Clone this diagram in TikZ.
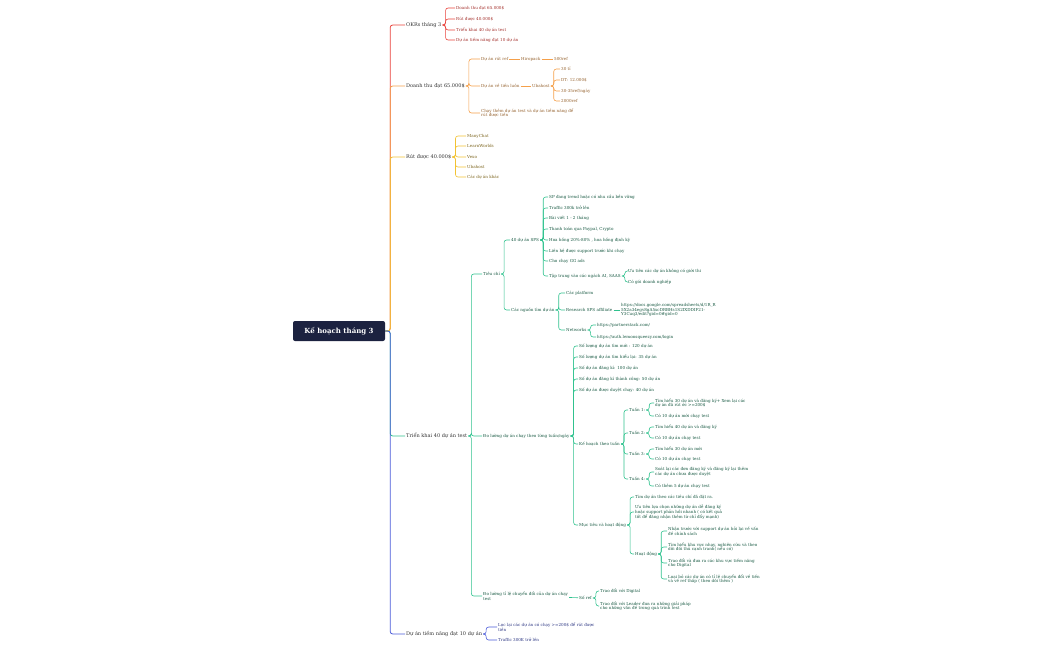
\documentclass[tikz,border=0pt]{standalone}
\usepackage{fontspec}
\setmainfont{DejaVu Serif}
\definecolor{cred}{HTML}{E8413A}
\definecolor{corange}{HTML}{F5A04A}
\definecolor{cyellow}{HTML}{F2C232}
\definecolor{cgreen}{HTML}{2FC28E}
\definecolor{cblue}{HTML}{4A5AD8}
\definecolor{croot}{HTML}{1C2240}
\tikzset{
  root/.style={fill=croot, rounded corners=2pt, text=white, font=\fontsize{7}{8}\selectfont\bfseries, minimum width=92pt, minimum height=20pt},
  main/.style={anchor=west, inner sep=1pt, text=black!80, font=\fontsize{5}{6}\selectfont},
  leaf/.style={anchor=west, inner sep=1pt, align=left, font=\fontsize{4.1}{4.8}\selectfont},
  link/.style={rounded corners=2.5pt, line width=0.6pt},
}
\newcommand{\lnk}[3]{\draw[link,#1] (#2.east) -- ++(3,0) |- (#3.west);}
\begin{document}
\begin{tikzpicture}[x=1pt,y=-1pt]
\useasboundingbox (0,0) rectangle (1050,650);

\node[root] (goc) at (339,331) {Kế hoạch tháng 3};

% nhanh chinh
\node[main] (okr) at (405,25) {OKRs tháng 3};
\node[main] (dt) at (405,86) {Doanh thu đạt 65.000\$};
\node[main] (rut) at (405,157) {Rút được 40.000\$};
\node[main] (tk) at (405,436) {Triển khai 40 dự án test};
\node[main] (tn) at (405,634) {Dự án tiềm năng đạt 10 dự án};
\draw[link,line width=0.8pt,cred] (goc.east) -- ++(5,0) |- (okr.west);
\draw[link,line width=0.8pt,corange] (goc.east) -- ++(5,0) |- (dt.west);
\draw[link,line width=0.8pt,cyellow] (goc.east) -- ++(5,0) |- (rut.west);
\draw[link,line width=0.8pt,cgreen] (goc.east) -- ++(5,0) |- (tk.west);
\draw[link,line width=0.8pt,cblue] (goc.east) -- ++(5,0) |- (tn.west);

% OKRs
\foreach \n/\y/\t in {1/8/{Doanh thu đạt 65.000\$},2/19/{Rút được 40.000\$},3/30/{Triển khai 40 dự án test},4/40/{Dự án tiềm năng đạt 10 dự án}}{
  \node[leaf,text=cred!70!black] (okr\n) at (455,\y) {\t};
  \lnk{cred}{okr}{okr\n}
}

% Doanh thu
\begin{scope}[every node/.append style={text=corange!60!black}]
\node[leaf] (dt1) at (480,59) {Dự án rút ref};
\node[leaf] (dt2) at (480,86) {Dự án về tiền luôn};
\node[leaf] (dt3) at (480,113) {Chạy thêm dự án test và dự án tiềm năng để\\rút được tiền};
\node[leaf] (hiro) at (520,59) {Hiropack};
\node[leaf] (hiro1) at (553,59) {500ref};
\node[leaf] (uba) at (531,86) {Ubahost};
\foreach \n/\y/\t in {1/69/{30 tỉ},2/80/{DT: 12.000\$},3/91/{30-35ref/ngày},4/101/{2000ref}}{
  \node[leaf] (uba\n) at (560,\y) {\t};
  \lnk{corange}{uba}{uba\n}
}
\end{scope}
\foreach \c in {dt1,dt2,dt3} {\lnk{corange}{dt}{\c}}
\draw[link,corange] (dt1) -- (hiro);
\draw[link,corange] (hiro) -- (hiro1);
\draw[link,corange] (dt2) -- (uba);

% Rut
\foreach \n/\y/\t in {1/136/{ManyChat},2/146/{LearnWorlds},3/157/{Vexo},4/167/{Ubahost},5/177/{Các dự án khác}}{
  \node[leaf,text=cyellow!50!black] (rut\n) at (466,\y) {\t};
  \lnk{cyellow}{rut}{rut\n}
}

% Trien khai
\begin{scope}[every node/.append style={text=cgreen!45!black}]
\node[leaf] (tc) at (482,274) {Tiêu chí};
\node[leaf] (dl) at (482,436) {Đo lường dự án chạy theo từng tuần/ngày};
\node[leaf] (cd) at (482,596) {Đo lường tỉ lệ chuyển đổi của dự án chạy\\test};
\node[leaf] (sps) at (510,240) {40 dự án SPS};
\node[leaf] (ng) at (510,310) {Các nguồn tìm dự án};
\foreach \n/\y/\t in {1/197/{SP đang trend hoặc có nhu cầu bền vững},2/208/{Traffic 300k trở lên},3/218/{Bài viết 1 - 2 tháng},4/229/{Thanh toán qua Paypal, Crypto},5/240/{Hoa hồng 20\%-80\% , hoa hồng định kỳ},6/251/{Liên hệ được support trước khi chạy},7/261/{Cho chạy GG ads},8/276/{Tập trung vào các ngách AI, SAAS}}{
  \node[leaf] (sps\n) at (548,\y) {\t};
  \lnk{cgreen}{sps}{sps\n}
}
\node[leaf] (ai1) at (627,271) {Ưu tiên các dự án không có giới thi};
\node[leaf] (ai2) at (627,282) {Có gói doanh nghiệp};
\node[leaf] (ng1) at (565,293) {Các platform};
\node[leaf] (ng2) at (565,310) {Research SPS affiliate};
\node[leaf] (ng3) at (565,330) {Networks};
\node[leaf] (url) at (620,310) {https://docs.google.com/spreadsheets/d/1R\_R\\5X2a34egv8gA5xcDRBHs1S2IXDDIF21-\\Y3Cuq3/edit?gid=0\#gid=0};
\node[leaf] (net1) at (596,325) {https://partnerstack.com/};
\node[leaf] (net2) at (596,337) {https://auth.lemonsqueezy.com/login};
\foreach \n/\y/\t in {1/346/{Số lượng dự án tìm mới : 120 dự án},2/357/{Số lượng dự án tìm hiểu lại: 35 dự án},3/368/{Số dự án đăng kí: 100 dự án},4/379/{Số dự án đăng kí thành công: 50 dự án},5/390/{Số dự án được duyệt chạy: 40 dự án}}{
  \node[leaf] (dl\n) at (578,\y) {\t};
  \lnk{cgreen}{dl}{dl\n}
}
\node[leaf] (kh) at (578,444) {Kế hoạch theo tuần};
\node[leaf] (mt) at (578,525) {Mục tiêu và hoạt động};
\foreach \n/\y in {1/410,2/433,3/454,4/479}{
  \node[leaf] (tuan\n) at (628,\y) {Tuần \n:};
  \lnk{cgreen}{kh}{tuan\n}
}
\node[leaf] (t1a) at (654,403) {Tìm hiểu 30 dự án và đăng ký+ Xem lại các\\dự án đã rút ớc >=200\$};
\node[leaf] (t1b) at (654,416) {Có 10 dự án mới chạy test};
\node[leaf] (t2a) at (654,427) {Tìm hiểu 40 dự án và đăng ký};
\node[leaf] (t2b) at (654,438) {Có 10 dự án chạy test};
\node[leaf] (t3a) at (654,449) {Tìm hiểu 30 dự án mới};
\node[leaf] (t3b) at (654,459) {Có 10 dự án chạy test};
\node[leaf] (t4a) at (654,472) {Soát lại các đơn đăng ký và đăng ký lại thêm\\các dự án chưa được duyệt};
\node[leaf] (t4b) at (654,486) {Có thêm 5 dự án chạy test};
\node[leaf] (mt1) at (634,497) {Tìm dự án theo các tiêu chí đã đặt ra.};
\node[leaf] (mt2) at (634,512) {Ưu tiên lựa chọn những dự án dễ đăng ký\\hoặc support phản hồi nhanh ( có kết quả\\tốt để đăng nhận thêm từ chỉ đẩy mạnh)};
\node[leaf] (hd) at (634,554) {Hoạt động};
\node[leaf] (hd1) at (667,531) {Nhận trước với support dự án hỏi lại về vấn\\đề chính sách};
\node[leaf] (hd2) at (667,547) {Tìm hiểu khu vực nhạy, nghiên cứu và theo\\dõi đối thủ cạnh tranh( nếu có)};
\node[leaf] (hd3) at (667,563) {Trao đổi và đưa ra các khu vực tiềm năng\\cho Digital};
\node[leaf] (hd4) at (667,579) {Loại bỏ các dự án có tỉ lệ chuyển đổi về tiền\\và về ref thấp ( theo dõi thêm )};
\node[leaf] (sr) at (578,598) {Số ref};
\node[leaf] (sr1) at (599,591) {Trao đổi với Digital};
\node[leaf] (sr2) at (599,606) {Trao đổi với Leader đưa ra những giải pháp\\cho những vấn đề trong quá trình test};
\end{scope}
\foreach \c in {tc,dl,cd} {\lnk{cgreen}{tk}{\c}}
\foreach \c in {sps,ng} {\lnk{cgreen}{tc}{\c}}
\foreach \c in {ai1,ai2} {\lnk{cgreen}{sps8}{\c}}
\foreach \c in {ng1,ng2,ng3} {\lnk{cgreen}{ng}{\c}}
\draw[link,cgreen] (ng2) -- (url);
\foreach \c in {net1,net2} {\lnk{cgreen}{ng3}{\c}}
\foreach \c in {kh,mt} {\lnk{cgreen}{dl}{\c}}
\foreach \c in {t1a,t1b} {\lnk{cgreen}{tuan1}{\c}}
\foreach \c in {t2a,t2b} {\lnk{cgreen}{tuan2}{\c}}
\foreach \c in {t3a,t3b} {\lnk{cgreen}{tuan3}{\c}}
\foreach \c in {t4a,t4b} {\lnk{cgreen}{tuan4}{\c}}
\foreach \c in {mt1,mt2,hd} {\lnk{cgreen}{mt}{\c}}
\foreach \c in {hd1,hd2,hd3,hd4} {\lnk{cgreen}{hd}{\c}}
\draw[link,cgreen] (cd) -- (sr);
\foreach \c in {sr1,sr2} {\lnk{cgreen}{sr}{\c}}

% Tiem nang
\node[leaf,text=cblue!60!black] (tn1) at (497,627) {Lọc lại các dự án có chạy >=200\$ để rút được\\tiền};
\node[leaf,text=cblue!60!black] (tn2) at (497,640) {Traffic 300K trở lên};
\foreach \c in {tn1,tn2} {\lnk{cblue}{tn}{\c}}
\end{tikzpicture}
\end{document}
